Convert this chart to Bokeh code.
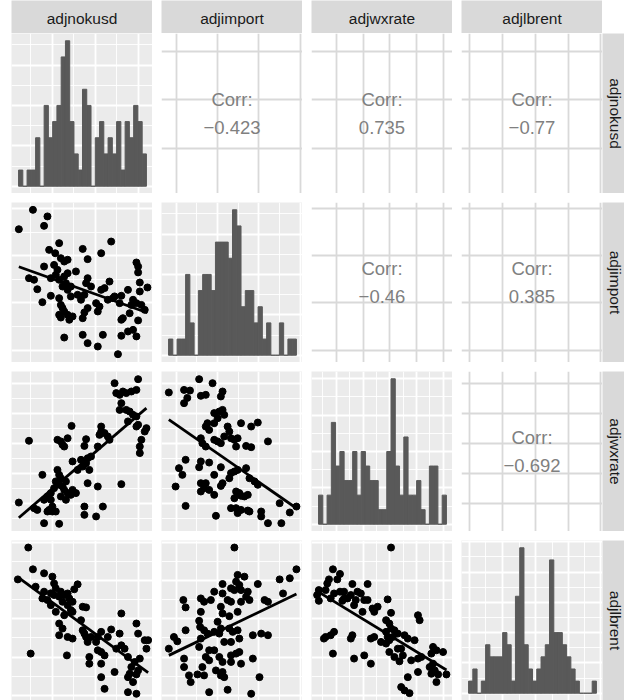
import numpy as np
from bokeh.plotting import figure
from bokeh.models import Range1d, FixedTicker, Spacer
from bokeh.layouts import row, column
from bokeh.core.properties import value
from bokeh.embed import file_html
from bokeh.resources import INLINE

variables = ["adjnokusd", "adjimport", "adjwxrate", "adjlbrent"]

# ---- diagonal histograms: counts in 30 bins ----
hist_adjnokusd = [1, 0, 1, 1, 3, 0, 5, 3, 4, 5, 8, 9, 4, 2, 1, 6, 5, 0, 3, 4, 2, 3, 2, 4, 1, 4, 3, 5, 4, 2]
hist_adjimport = [1, 0, 1, 1, 5, 2, 0, 4, 5, 5, 4, 7, 7, 7, 6, 9, 8, 3, 4, 4, 2, 3, 1, 2, 0, 0, 2, 0, 1, 1]
hist_adjwxrate = [2, 0, 2, 7, 4, 5, 3, 3, 5, 2, 5, 4, 3, 3, 1, 1, 5, 10, 4, 2, 6, 2, 2, 3, 1, 0, 4, 4, 0, 2]
hist_adjlbrent = [1, 2, 0, 1, 4, 3, 3, 3, 5, 4, 1, 8, 12, 4, 2, 1, 2, 3, 4, 11, 5, 5, 4, 3, 2, 1, 0, 0, 0, 1]
hist_bin_range = [5.0, 95.7]

# ---- upper panels: correlations ----
corr_pairs = [(0, 1), (0, 2), (0, 3), (1, 2), (1, 3), (2, 3)]
corr_values = [-0.423, 0.735, -0.77, -0.46, 0.385, -0.692]

# ---- axis breaks (values on each variable's 0-100 panel scale) ----
xbreaks_adjnokusd = [29.0, 59.5, 90.0]
ybreaks_adjnokusd = [28.1, 58.8, 88.8]
xbreaks_adjimport = [10.5, 39.8, 69.1, 98.4]
ybreaks_adjimport = [7.5, 37.3, 66.9, 96.1]
xbreaks_adjwxrate = [17.5, 36.8, 55.5, 74.5, 93.5]
ybreaks_adjwxrate = [17.5, 36.25, 55.0, 73.75, 92.5]
xbreaks_adjlbrent = [5.5, 29.0, 52.5, 76.0, 98.7]
ybreaks_adjlbrent = [3.1, 27.0, 51.2, 75.0, 98.8]

# ---- lower panels: scatter observations ----
nokusd_import_x = [5.2, 15.2, 25.5, 23.1, 33.8, 26.7, 31.0, 50.5, 63.6, 70.7,
                   54.0, 39.8, 37.4, 30.2, 23.1, 45.7, 88.6, 89.8, 89.8, 12.4,
                   16.0, 18.3, 27.9, 31.4, 33.8, 37.4, 38.6, 36.2, 39.8, 42.1,
                   54.0, 52.9, 56.4, 46.9, 51.7, 63.6, 66.0, 69.5, 82.6, 91.0,
                   96.4, 91.0, 27.9, 21.9, 33.8, 35.0, 36.2, 37.4, 35.0, 39.8,
                   43.3, 41.0, 50.5, 51.7, 54.0, 60.0, 62.4, 61.2, 73.1, 77.9,
                   76.7, 86.2, 88.6, 92.1, 94.5, 83.8, 79.0, 77.9, 89.8, 82.6,
                   86.2, 88.6, 77.9, 50.5, 37.4, 54.0, 64.8, 61.2, 75.5, 32.6,
                   35.0, 39.8, 49.3, 68.3, 71.9, 85.0, 33.8, 42.1]
nokusd_import_y = [83.3, 95.4, 91.3, 85.4, 74.6, 70.4, 68.3, 71.0, 68.3, 75.6,
                   64.6, 64.2, 63.1, 61.0, 60.0, 56.9, 62.5, 60.0, 56.3, 52.7,
                   51.7, 45.8, 52.7, 54.8, 51.7, 53.8, 49.6, 47.5, 45.4, 47.5,
                   52.7, 49.6, 47.5, 42.3, 42.3, 45.4, 46.5, 50.6, 45.4, 50.0,
                   46.9, 44.4, 41.7, 37.7, 40.2, 36.0, 34.0, 31.9, 28.1, 29.8,
                   28.8, 26.7, 27.7, 31.3, 34.0, 37.1, 35.0, 31.9, 41.3, 41.7,
                   37.1, 39.2, 37.1, 36.0, 32.9, 30.8, 27.7, 26.7, 26.3, 19.4,
                   20.4, 16.3, 16.7, 17.3, 15.6, 12.1, 17.3, 10.0, 5.2, 57.9,
                   65.2, 55.8, 39.2, 39.2, 40.2, 36.0, 29.8, 41.3]

nokusd_wxrate_x = [5.2, 12.4, 16.0, 18.3, 23.1, 33.8, 23.1, 25.5, 27.9, 26.7,
                   25.5, 29.0, 31.4, 29.0, 21.9, 32.6, 33.8, 31.4, 35.0, 33.8,
                   36.2, 38.6, 37.4, 35.0, 39.8, 42.1, 45.7, 43.3, 32.6, 35.0,
                   36.2, 39.8, 37.4, 42.6, 52.9, 51.7, 43.3, 49.3, 50.5, 52.9,
                   54.0, 55.2, 54.0, 61.2, 51.7, 51.7, 60.0, 64.8, 63.6, 63.6,
                   62.4, 66.0, 69.5, 68.3, 73.1, 74.3, 76.7, 79.0, 81.4, 85.0,
                   88.6, 89.8, 77.9, 76.7, 81.4, 83.8, 86.2, 88.6, 89.8, 88.6,
                   95.7, 94.5, 92.1, 91.0, 91.0, 77.9, 82.6, 46.9, 56.4, 61.2,
                   27.9, 38.6, 30.2]
nokusd_wxrate_y = [18.1, 56.7, 14.6, 13.5, 5.2, 4.8, 19.8, 21.9, 24.0, 13.5,
                   12.5, 12.5, 12.5, 15.6, 35.4, 38.5, 35.4, 31.3, 33.3, 29.2,
                   28.1, 31.3, 26.0, 21.9, 24.0, 22.9, 24.0, 26.0, 57.3, 56.3,
                   54.2, 58.3, 53.1, 66.0, 57.7, 53.5, 43.8, 44.8, 40.6, 42.7,
                   45.8, 38.5, 30.2, 28.1, 15.6, 10.4, 9.4, 15.6, 65.6, 62.5,
                   60.4, 61.5, 57.3, 59.4, 92.7, 86.5, 85.4, 87.5, 86.5, 87.5,
                   88.5, 95.2, 80.2, 76.0, 76.0, 75.0, 72.9, 71.9, 66.7, 65.6,
                   64.6, 62.5, 57.3, 53.1, 49.0, 29.6, 68.8, 38.5, 46.9, 53.1,
                   19.8, 19.8, 27.1]

import_wxrate_x = [5.2, 16.0, 20.2, 16.0, 18.3, 26.7, 27.9, 31.4, 36.2, 43.3,
                   42.1, 37.4, 41.0, 43.3, 44.5, 39.8, 32.6, 31.4, 33.8, 37.4,
                   46.9, 48.1, 44.5, 49.3, 51.7, 54.0, 56.4, 63.6, 68.3, 27.9,
                   29.0, 31.4, 37.4, 39.8, 42.1, 52.9, 60.0, 63.6, 75.5, 17.1,
                   12.4, 14.8, 10.0, 27.9, 26.7, 33.8, 42.1, 37.4, 27.9, 31.4,
                   30.2, 27.9, 33.8, 37.4, 42.1, 43.3, 48.1, 49.3, 51.7, 54.0,
                   60.0, 62.4, 66.0, 68.3, 52.9, 55.2, 56.4, 58.8, 61.2, 51.7,
                   49.3, 52.9, 56.4, 61.2, 54.0, 62.4, 70.7, 70.7, 75.5, 85.0,
                   38.6, 17.1, 83.8, 91.0, 95.7]
import_wxrate_y = [86.9, 88.5, 88.1, 80.2, 83.5, 95.2, 84.8, 85.4, 92.7, 87.5,
                   84.4, 74.0, 75.0, 76.0, 72.9, 70.8, 67.7, 65.6, 63.5, 67.7,
                   65.6, 62.5, 59.4, 58.3, 57.3, 58.3, 67.7, 65.6, 68.1, 58.3,
                   55.2, 53.1, 57.3, 56.3, 55.2, 53.1, 53.5, 52.7, 56.3, 44.8,
                   39.6, 35.4, 28.1, 43.8, 40.2, 43.1, 40.2, 35.4, 30.2, 30.2,
                   27.1, 25.0, 26.0, 22.9, 28.5, 30.2, 33.3, 36.5, 37.5, 38.5,
                   39.6, 33.3, 31.3, 29.2, 25.0, 24.0, 22.3, 21.9, 22.9, 20.8,
                   14.6, 14.6, 13.5, 13.1, 11.5, 12.5, 12.5, 9.4, 5.2, 5.2,
                   9.8, 16.0, 17.7, 11.9, 15.6]

nokusd_lbrent_x = [11.9, 4.5, 15.2, 23.1, 29.0, 30.2, 17.1, 23.1, 21.9, 25.5,
                   27.9, 30.2, 31.4, 35.0, 37.4, 39.8, 41.0, 43.3, 39.8, 46.9,
                   44.5, 36.2, 50.5, 52.9, 31.4, 37.4, 43.3, 49.3, 33.8, 36.2,
                   33.8, 39.8, 43.3, 51.7, 52.9, 54.0, 63.6, 70.7, 68.3, 61.2,
                   60.0, 50.5, 77.9, 76.7, 74.3, 77.9, 80.2, 88.6, 89.8, 94.5,
                   96.9, 95.7, 82.6, 87.4, 91.0, 85.0, 83.8, 88.6, 89.8, 82.6,
                   86.2, 63.6, 66.0, 61.2, 55.2, 55.2, 63.6, 63.6, 73.1, 66.0,
                   82.6, 88.6, 13.6, 39.3, 27.9, 33.8, 42.1, 56.4]
nokusd_lbrent_y = [95.6, 75.7, 82.0, 79.5, 77.4, 73.2, 71.1, 68.0, 63.8, 62.8,
                   59.6, 65.9, 70.1, 68.0, 65.9, 66.9, 63.8, 61.7, 59.6, 72.6,
                   69.5, 61.7, 58.6, 58.2, 55.4, 53.3, 55.4, 50.2, 48.1, 45.0,
                   40.8, 39.7, 38.7, 41.8, 39.7, 36.6, 42.9, 44.4, 39.7, 39.7,
                   36.6, 43.9, 54.4, 41.8, 32.4, 34.5, 32.4, 48.1, 41.8, 37.7,
                   37.7, 32.4, 27.2, 24.1, 26.2, 20.9, 16.7, 16.3, 18.8, 14.6,
                   11.5, 30.3, 28.2, 31.4, 27.2, 23.0, 23.0, 14.6, 17.8, 7.3,
                   5.2, 4.2, 29.3, 28.2, 67.0, 64.9, 56.5, 39.7]

import_lbrent_x = [51.7, 95.7, 83.8, 91.0, 86.2, 54.0, 58.8, 52.9, 55.2, 43.3,
                   49.3, 51.7, 56.4, 61.2, 68.3, 62.4, 60.0, 56.4, 49.3, 46.9,
                   43.3, 37.4, 35.0, 30.2, 27.9, 15.5, 17.1, 27.9, 42.1, 43.3,
                   39.8, 48.1, 54.0, 73.1, 75.5, 26.7, 27.4, 30.2, 32.6, 37.4,
                   41.0, 42.1, 48.1, 50.5, 54.0, 55.2, 49.3, 44.5, 27.9, 26.7,
                   37.4, 33.8, 31.4, 33.8, 29.0, 41.0, 43.3, 49.3, 52.9, 55.2,
                   64.8, 70.7, 75.5, 64.8, 43.3, 42.1, 38.6, 44.5, 30.2, 25.5,
                   19.5, 16.0, 16.0, 8.8, 5.2, 11.2, 17.1, 20.7, 33.8, 46.9,
                   63.6, 69.5, 49.3, 56.4]
import_lbrent_y = [95.6, 82.0, 75.7, 76.4, 66.9, 78.5, 77.4, 74.3, 72.2, 72.8,
                   70.1, 69.0, 69.0, 68.0, 72.8, 62.8, 64.9, 61.7, 61.7, 62.8,
                   66.9, 68.0, 62.8, 61.7, 63.8, 62.8, 58.2, 55.4, 58.6, 54.4,
                   49.2, 52.7, 55.4, 62.8, 61.7, 49.8, 46.0, 43.9, 41.8, 42.9,
                   41.8, 45.0, 45.0, 42.9, 43.9, 38.7, 36.6, 36.6, 38.7, 33.5,
                   31.4, 31.4, 27.2, 25.1, 20.9, 27.2, 24.1, 28.2, 29.3, 30.3,
                   26.2, 41.8, 40.8, 40.8, 17.8, 15.7, 18.8, 14.6, 15.7, 16.3,
                   15.7, 20.9, 26.2, 39.7, 32.4, 37.0, 43.9, 11.5, 5.2, 6.7,
                   4.2, 14.6, 24.1, 23.0]

wxrate_lbrent_x = [56.4, 15.2, 20.2, 18.3, 12.4, 11.2, 5.2, 4.0, 5.2, 10.0,
                   13.6, 16.0, 20.2, 23.1, 23.1, 21.9, 25.5, 27.9, 29.0, 32.6,
                   35.0, 39.8, 31.4, 37.4, 39.8, 43.3, 46.9, 44.5, 54.0, 56.4,
                   36.2, 30.2, 52.9, 55.2, 56.4, 58.8, 61.2, 52.9, 54.0, 57.6,
                   66.0, 68.3, 55.2, 49.3, 42.1, 44.5, 29.0, 27.9, 16.0, 13.6,
                   10.0, 8.8, 73.1, 75.5, 76.7, 86.2, 88.6, 93.3, 85.0, 77.9,
                   75.5, 70.7, 63.6, 64.8, 58.8, 62.4, 55.2, 52.9, 61.2, 42.1,
                   37.4, 30.2, 15.2, 83.8, 86.2, 87.4, 89.8, 85.0, 95.7, 88.6,
                   75.5, 68.3, 63.6, 66.0, 69.5]
wxrate_lbrent_y = [95.6, 82.0, 79.1, 75.7, 75.7, 73.2, 69.0, 65.9, 62.3, 69.0,
                   63.8, 66.9, 68.0, 68.0, 63.8, 62.3, 63.8, 65.9, 72.8, 68.0,
                   66.9, 72.8, 62.8, 62.8, 62.8, 57.5, 58.6, 55.4, 63.2, 54.8,
                   55.4, 59.6, 50.2, 48.1, 45.0, 43.9, 41.8, 42.9, 39.7, 39.7,
                   40.8, 38.7, 37.7, 36.6, 38.7, 39.7, 40.8, 38.7, 42.9, 40.8,
                   39.7, 38.7, 37.7, 53.3, 50.2, 33.5, 31.4, 30.3, 29.3, 27.2,
                   26.2, 25.1, 32.4, 28.2, 27.2, 24.5, 30.3, 35.6, 32.4, 23.0,
                   28.2, 26.2, 29.3, 20.9, 23.0, 18.8, 16.3, 16.7, 16.3, 11.5,
                   17.8, 14.6, 8.4, 6.3, 4.6]

# --------------------------------------------------------------------------
hists = [hist_adjnokusd, hist_adjimport, hist_adjwxrate, hist_adjlbrent]
xbreaks = [xbreaks_adjnokusd, xbreaks_adjimport, xbreaks_adjwxrate, xbreaks_adjlbrent]
ybreaks = [ybreaks_adjnokusd, ybreaks_adjimport, ybreaks_adjwxrate, ybreaks_adjlbrent]
scatter = {
    (1, 0): (nokusd_import_x, nokusd_import_y),
    (2, 0): (nokusd_wxrate_x, nokusd_wxrate_y),
    (2, 1): (import_wxrate_x, import_wxrate_y),
    (3, 0): (nokusd_lbrent_x, nokusd_lbrent_y),
    (3, 1): (import_lbrent_x, import_lbrent_y),
    (3, 2): (wxrate_lbrent_x, wxrate_lbrent_y),
}

PW, PH = 141, 160
GAP = 9
LEFT = 11
STRIP_H = 33
RSTRIP_W = 22
FONT = value("Liberation Sans")
PANEL_BG = "#EBEBEB"
STRIP_BG = "#D9D9D9"


def minors(majors, lo, hi):
    step = (majors[-1] - majors[0]) / (len(majors) - 1)
    cands = [m - step / 2 for m in majors] + [majors[-1] + step / 2]
    return [c for c in cands if lo < c < hi]


def base(w, h, xr, yr, bg):
    p = figure(width=w, height=h, x_range=Range1d(*xr), y_range=Range1d(*yr),
               output_backend="svg", toolbar_location=None,
               x_axis_location=None, y_axis_location=None, title=None,
               min_border=0, background_fill_color=bg,
               border_fill_color="white", outline_line_color=None)
    return p


def set_grid(p, xmaj, ymaj, xlo, xhi, ylo, yhi, color, minor=True):
    p.xgrid.ticker = FixedTicker(ticks=xmaj, minor_ticks=minors(xmaj, xlo, xhi) if minor else [])
    p.ygrid.ticker = FixedTicker(ticks=ymaj, minor_ticks=minors(ymaj, ylo, yhi) if minor else [])
    for g in (p.xgrid, p.ygrid):
        g.grid_line_color = color
        g.grid_line_width = 1.8
        if minor:
            g.minor_grid_line_color = color
            g.minor_grid_line_width = 0.9
        else:
            g.minor_grid_line_color = None


def panel(i, j):
    if i == j:
        counts = hists[j]
        top = max(counts) * 1.05
        bot = -max(counts) * 0.05
        p = base(PW, PH, (0, 100), (bot, top), PANEL_BG)
        cmaj = [k * 2.5 for k in range(0, 8) if k * 2.5 <= top]
        set_grid(p, xbreaks[j], cmaj, 0, 100, bot, top, "white")
        edges = np.linspace(hist_bin_range[0], hist_bin_range[1], len(counts) + 1)
        p.quad(left=edges[:-1], right=edges[1:], bottom=0, top=counts,
               fill_color="#595959", line_color="#595959", line_width=1)
    elif i > j:
        p = base(PW, PH, (0, 100), (0, 100), PANEL_BG)
        set_grid(p, xbreaks[j], ybreaks[i], 0, 100, 0, 100, "white")
        xs, ys = scatter[(i, j)]
        p.scatter(xs, ys, size=7, color="black")
        slope, icpt = np.polyfit(xs, ys, 1)
        lx = np.array([min(xs), max(xs)])
        p.line(lx, slope * lx + icpt, line_width=2.8, color="black")
    else:
        p = base(PW, PH, (0, 100), (0, 100), "white")
        set_grid(p, xbreaks[j], ybreaks[i], 0, 100, 0, 100, "#D9D9D9", minor=False)
        v = corr_values[corr_pairs.index((i, j))]
        txt = f"{v:g}".replace("-", "\u2212")
        p.text(x=[50, 50], y=[58.6, 41.4], text=["Corr:", txt],
               text_align="center", text_baseline="middle",
               text_font=FONT, text_font_size="18.5px", text_color="#808080")
    return p


def strip_fig(w, h):
    p = base(w, h, (0, w), (0, h), STRIP_BG)
    p.xgrid.visible = False
    p.ygrid.visible = False
    return p


def top_strip(name):
    p = strip_fig(PW, STRIP_H)
    p.text(x=[PW / 2], y=[15.5], text=[name], text_align="center", text_baseline="middle",
           text_font=FONT, text_font_size="15.5px", text_color="#1A1A1A")
    return p


def right_strip(name):
    p = strip_fig(RSTRIP_W, PH)
    p.text(x=[12.5], y=[PH / 2], text=[name], angle=-np.pi / 2,
           text_align="center", text_baseline="middle",
           text_font=FONT, text_font_size="15.5px", text_color="#1A1A1A")
    return p


rows = []
kids = [Spacer(width=LEFT, height=STRIP_H)]
for j, name in enumerate(variables):
    if j > 0:
        kids.append(Spacer(width=GAP, height=STRIP_H))
    kids.append(top_strip(name))
kids.append(Spacer(width=RSTRIP_W, height=STRIP_H))
rows.append(row(*kids))

for i in range(4):
    if i > 0:
        rows.append(Spacer(width=624, height=GAP))
    kids = [Spacer(width=LEFT, height=PH)]
    for j in range(4):
        if j > 0:
            kids.append(Spacer(width=GAP, height=PH))
        kids.append(panel(i, j))
    kids.append(right_strip(variables[i]))
    rows.append(row(*kids))

layout = column(*rows)
open("out.html", "w").write(file_html(layout, INLINE))
